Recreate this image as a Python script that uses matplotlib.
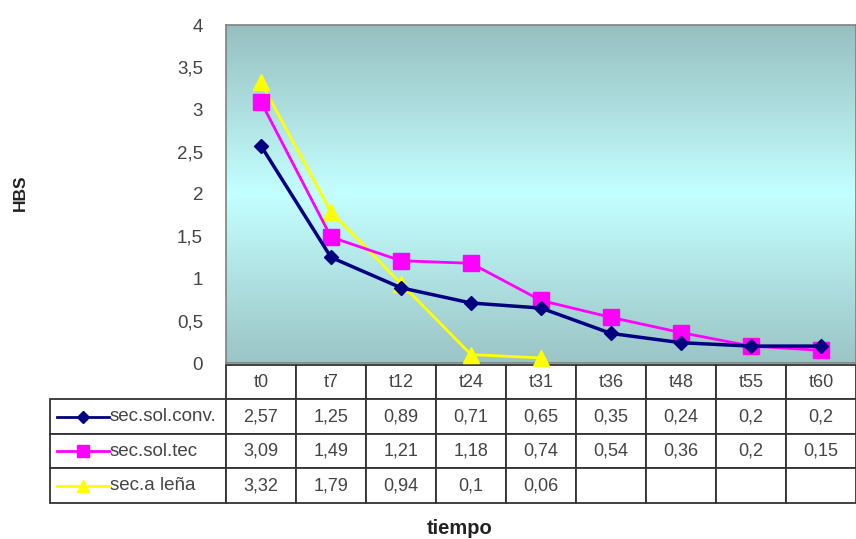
import numpy as np
import matplotlib
matplotlib.use("Agg")
import matplotlib.pyplot as plt
from matplotlib.lines import Line2D
from matplotlib.table import Table
from matplotlib.colors import LinearSegmentedColormap

plt.rcParams['font.family'] = ['Liberation Sans', 'DejaVu Sans']

categories = ["t0", "t7", "t12", "t24", "t31", "t36", "t48", "t55", "t60"]
conv = [2.57, 1.25, 0.89, 0.71, 0.65, 0.35, 0.24, 0.2, 0.2]
tec = [3.09, 1.49, 1.21, 1.18, 0.74, 0.54, 0.36, 0.2, 0.15]
lena = [3.32, 1.79, 0.94, 0.1, 0.06, None, None, None, None]
series_names = ["sec.sol.conv.", "sec.sol.tec", "sec.a leña"]
yticks = [0, 0.5, 1, 1.5, 2, 2.5, 3, 3.5, 4]

def fmt(v):
    if v is None:
        return ""
    return ("%g" % v).replace(".", ",")

W, H = 856, 539
fig = plt.figure(figsize=(W / 100, H / 100), dpi=100)
ax_l, ax_r, ax_t, ax_b = 226, 856, 25, 363
ax_h = ax_b - ax_t
ax = fig.add_axes([ax_l / W, 1 - ax_b / H, (ax_r - ax_l) / W, ax_h / H])

# gradient background
cmap = LinearSegmentedColormap.from_list(
    "bg", [(0, "#9bc4c5"), (0.5, "#c4ffff"), (1, "#97bfc0")])
grad = np.linspace(0, 1, 256).reshape(-1, 1)
ax.imshow(grad, cmap=cmap, aspect="auto", extent=[-0.5, 8.5, 0, 4],
          origin="lower", zorder=0, interpolation="bicubic")

x = np.arange(len(categories))
y_lena = np.array([np.nan if v is None else v for v in lena])
ax.plot(x, y_lena, color="#ffff00", lw=2, marker="^", ms=11, zorder=3,
        clip_on=False)
ax.plot(x, tec, color="#ff00ff", lw=2, marker="s", ms=11, zorder=4,
        clip_on=False)
ax.plot(x, conv, color="#000080", lw=2.5, marker="D", ms=7, zorder=5,
        clip_on=False)

ax.set_xlim(-0.5, 8.5)
ax.set_ylim(0, 4)
ax.set_yticks(yticks)
ax.set_yticklabels([fmt(v) for v in yticks], fontsize=13.5, color="#444444")
ax.tick_params(axis="y", length=0, pad=16.5)
ax.set_xticks([])
for s in ["left", "top", "right", "bottom"]:
    ax.spines[s].set_color("#808080")
    ax.spines[s].set_linewidth(1.2)

# data table
cell_text = [[fmt(v) for v in conv], [fmt(v) for v in tec],
             [fmt(v) for v in lena]]
row_h_px = 34.5
rh = row_h_px / ax_h
cw = 1 / len(categories)
top = -2 / ax_h
tbl = Table(ax, loc=None, bbox=[0, top - 4 * rh, 1, 4 * rh])
tbl.auto_set_font_size(False)
tbl.set_fontsize(13)
for j, cat in enumerate(categories):
    tbl.add_cell(0, j, width=cw, height=rh, text=cat, loc="center")
for i, row in enumerate(cell_text):
    cell = tbl.add_cell(i + 1, -1, width=176 / 630, height=rh,
                        text=series_names[i], loc="left")
    cell.PAD = 60 / 176
    for j, t in enumerate(row):
        tbl.add_cell(i + 1, j, width=cw, height=rh, text=t, loc="center")
for (r, c), cell in tbl.get_celld().items():
    cell.set_edgecolor("#333333")
    cell.set_linewidth(1.3)
    cell.set_facecolor("white")
    cell.get_text().set_color("#444444")
    cell.get_text().set_fontsize(13.5 if c == -1 else 13)
ax.add_table(tbl)

# legend keys inside row labels
styles = [("#000080", "D", 6), ("#ff00ff", "s", 9), ("#ffff00", "^", 9)]
for i, (col, mk, ms) in enumerate(styles):
    yc = 1 - (ax_b + 2 + row_h_px * (i + 1.5)) / H
    fig.add_artist(Line2D([57 / W, 109 / W], [yc, yc], color=col, lw=2,
                          transform=fig.transFigure))
    fig.add_artist(Line2D([83 / W], [yc], color=col, marker=mk, ms=ms,
                          transform=fig.transFigure))

fig.text(20 / W, 1 - 193 / H, "HBS", rotation=90, fontsize=12.5,
         fontweight="bold", ha="center", va="center", color="#222222")
fig.text(460 / W, 1 - 528 / H, "tiempo", fontsize=14.5, fontweight="bold",
         ha="center", va="center", color="#222222")

fig.savefig("out.png", dpi=100)
